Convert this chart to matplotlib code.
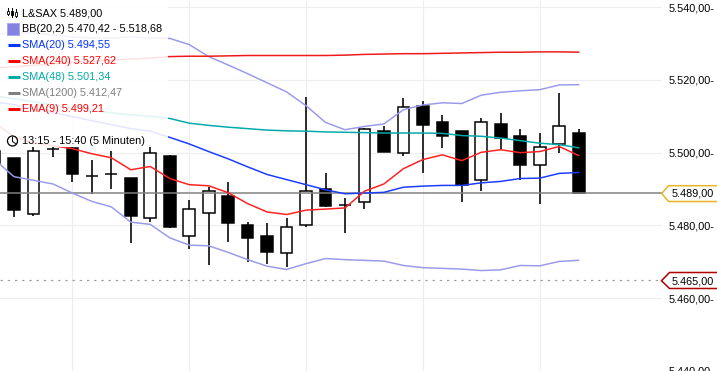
import matplotlib
matplotlib.use("Agg")
import matplotlib.pyplot as plt
from matplotlib.patches import Rectangle, Polygon, Circle

plt.rcParams['font.family'] = ['Liberation Sans', 'DejaVu Sans']

opens  = [5500.5,5498.6,5483.2,5501.1,5501.4,5493.7,5494.2,5493.1,5482.1,5499.2,5477.1,5483.4,5488.2,5480.2,5477.2,5472.5,
          5480.1,5490.1,5485.5,5486.5,5506.0,5499.9,5512.9,5508.5,5506.0,5492.5,5507.9,5504.6,5496.6,5502.4,5505.4]
closes = [5497.2,5484.3,5500.4,5501.1,5494.0,5493.7,5494.2,5482.5,5499.9,5479.5,5484.5,5489.4,5480.7,5476.5,5472.8,5479.6,
          5489.5,5485.4,5485.5,5506.4,5500.3,5512.5,5507.7,5504.7,5491.2,5508.4,5503.9,5496.7,5501.5,5507.3,5489.0]
highs  = [5501.6,5498.6,5501.6,5501.6,5501.6,5498.1,5500.5,5493.1,5502.2,5499.4,5487.1,5490.6,5492.0,5480.9,5480.7,5482.1,
          5515.3,5494.4,5487.6,5506.9,5507.4,5515.0,5514.3,5510.4,5506.0,5509.5,5510.9,5506.5,5505.4,5516.4,5506.5]
lows   = [5497.2,5482.4,5482.7,5498.9,5491.8,5488.7,5490.1,5475.3,5480.9,5479.4,5473.6,5469.2,5475.4,5469.9,5469.3,5468.6,
          5479.6,5485.0,5478.0,5484.5,5500.3,5499.2,5494.4,5501.4,5486.4,5489.4,5501.0,5492.5,5485.9,5499.9,5489.0]
bb_upper = [5532.6,5532.9,5532.9,5532.3,5531.8,5531.5,5531.5,5531.8,5531.5,5531.4,5529.7,5526.4,5524.1,5521.7,5519.2,5516.7,
            5512.9,5508.3,5506.3,5507.2,5507.9,5511.8,5513.1,5513.7,5513.5,5515.8,5516.6,5517.0,5517.3,5518.6,5518.68]
bb_lower = [5498.1,5493.4,5492.4,5491.4,5488.9,5486.6,5485.1,5480.9,5480.3,5476.6,5474.6,5474.4,5472.6,5470.6,5468.8,5467.9,
            5469.5,5470.9,5470.6,5470.4,5470.2,5469.0,5468.4,5468.2,5468.0,5467.6,5467.8,5469.0,5468.9,5470.1,5470.42]
sma20  = [5514.0,5513.2,5512.0,5511.0,5509.9,5508.8,5507.7,5506.6,5505.9,5504.2,5502.4,5500.3,5498.3,5496.1,5494.0,5492.6,
          5491.2,5489.8,5488.7,5488.9,5489.1,5490.5,5490.8,5491.0,5491.0,5491.7,5492.1,5492.9,5493.0,5494.3,5494.55]
sma240 = [5523.2,5523.6,5524.0,5524.4,5524.8,5525.1,5525.4,5525.7,5526.0,5526.4,5526.5,5526.5,5526.6,5526.7,5526.7,5526.7,
          5526.7,5526.7,5526.8,5527.0,5527.1,5527.2,5527.2,5527.3,5527.4,5527.5,5527.6,5527.6,5527.7,5527.7,5527.62]
sma48  = [5515.6,5514.8,5514.0,5513.1,5512.3,5511.6,5510.9,5510.4,5510.0,5509.4,5508.1,5507.5,5507.0,5506.6,5506.2,5506.0,
          5505.9,5505.7,5505.6,5505.5,5505.4,5505.4,5505.4,5505.3,5504.7,5504.5,5504.0,5503.3,5502.6,5502.2,5501.34]
ema9   = [5508.2,5504.4,5502.7,5501.9,5501.1,5499.7,5498.6,5495.3,5496.2,5492.9,5491.2,5490.9,5489.0,5486.0,5483.7,5483.0,
          5484.2,5484.5,5484.8,5489.4,5491.4,5495.6,5498.1,5499.4,5497.8,5500.1,5500.8,5500.0,5500.3,5501.7,5499.21]
y_ticks = [5540, 5520, 5500, 5480, 5460, 5440]
y_tick_labels = ["5.540,00-", "5.520,00-", "5.500,00-", "5.480,00-", "5.460,00-", "5.440,00-"]
grid_x = [4, 10, 16, 22, 28]
current_price = 5489
alert_price = 5465
legend_rows = [("L&SAX 5.489,00", "black"), ("BB(20,2) 5.470,42 - 5.518,68", "black"),
               ("SMA(20) 5.494,55", "#0033ff"), ("SMA(240) 5.527,62", "#ff0000"),
               ("SMA(48) 5.501,34", "#00aaaa"), ("SMA(1200) 5.412,47", "#808080"),
               ("EMA(9) 5.499,21", "#ff0000")]
time_label = "13:15 - 15:40 (5 Minuten)"

FS = 7.85
PX = 0.72
fig = plt.figure(figsize=(7.17, 3.71), dpi=100)
ax = fig.add_axes([0, 0, 662/717, 1])
ax.set_xlim(0.2825, 34.28)
ax.set_ylim(5440.2, 5541.95)
for s in ax.spines.values():
    s.set_visible(False)
ax.set_xticks([])
ax.yaxis.tick_right()
ax.set_yticks(y_ticks)
ax.set_yticklabels(y_tick_labels, fontsize=FS, color="black")
ax.tick_params(axis='y', length=0, pad=4.6)
ax.hlines(y_ticks, 0, 1, transform=ax.get_yaxis_transform(), color="#eeeeee", lw=1.2*PX, zorder=1)
ax.vlines(grid_x, 0, 1, transform=ax.get_xaxis_transform(), color="#eeeeee", lw=1.2*PX, zorder=1)

xs = list(range(len(opens)))
ax.vlines(xs, lows, highs, color="black", lw=1.6*PX, zorder=3)
for x, o, c in zip(xs, opens, closes):
    black = c < o
    ax.bar(x, abs(c - o), bottom=min(o, c), width=0.6, facecolor="black" if black else "white",
           edgecolor="black", lw=1.5*PX, zorder=4)

ax.axhline(current_price, color="#808080", lw=1.5*PX, zorder=5)
ax.axhline(alert_price, color="#a0a0a0", lw=1.2*PX, ls=(0, (2, 4)), zorder=2)

ax.plot(xs, bb_upper, color="#9a9aea", lw=1.5*PX, zorder=6)
ax.plot(xs, bb_lower, color="#9a9aea", lw=1.5*PX, zorder=6)
ax.plot(xs, sma240, color="#f01818", lw=1.5*PX, zorder=6)
ax.plot(xs, sma48, color="#00aaaa", lw=1.5*PX, zorder=6)
ax.plot(xs, sma20, color="#1a3cff", lw=1.5*PX, zorder=6)
ax.plot(xs, ema9, color="#ff2020", lw=1.5*PX, zorder=7)

ov = fig.add_axes([0, 0, 1, 1], facecolor="none")
ov.set_xlim(0, 717)
ov.set_ylim(371, 0)
ov.axis("off")
ov.add_patch(Rectangle((0, 0), 168, 147, facecolor="white", edgecolor="none", alpha=0.88))
row_y = [13, 29, 45, 61, 77, 93, 109]
for (txt, col), y in zip(legend_rows, row_y):
    ov.text(22.5, y, txt, color=col, fontsize=FS, va="center", ha="left")
for (txt, col), y in list(zip(legend_rows, row_y))[2:]:
    ov.plot([8, 20], [y, y], color=col, lw=3*PX, solid_capstyle="butt")
ov.add_patch(Rectangle((7, 23), 12, 12, facecolor="#8484e0", edgecolor="#a8a8ee", lw=0.7))
for cx, top, bot, low, high, fill in [(7.5, 11, 14, 8, 15, "white"), (11.5, 11, 15, 8, 17, "black"), (15.5, 12, 16, 9, 17, "white")]:
    ov.plot([cx, cx], [low, high], color="black", lw=0.7)
    ov.add_patch(Rectangle((cx - 1, top), 2, bot - top, facecolor=fill, edgecolor="black", lw=0.6, zorder=3))
ov.text(22.5, 141.3, time_label, color="black", fontsize=FS, va="center", ha="left")
ov.add_patch(Circle((12.5, 141), 5, facecolor="white", edgecolor="black", lw=0.9))
ov.plot([12.5, 12.5, 15.5], [137.5, 141.5, 143.5], color="black", lw=0.7)

ov.add_patch(Polygon([(717, 185.7), (668.5, 185.7), (661.7, 193.5), (668.5, 201.5), (717, 201.5)],
                     closed=False, facecolor="white", edgecolor="#e8b42a", lw=1.1))
ov.text(671.7, 193.8, "5.489,00", color="black", fontsize=FS, va="center", ha="left")
ov.add_patch(Polygon([(717, 272.5), (669.5, 272.5), (661.5, 280.7), (669.5, 288.5), (717, 288.5)],
                     closed=False, facecolor="white", edgecolor="#b00000", lw=1.1))
ov.text(671.7, 281, "5.465,00", color="black", fontsize=FS, va="center", ha="left")

fig.savefig("out.png", dpi=100)
